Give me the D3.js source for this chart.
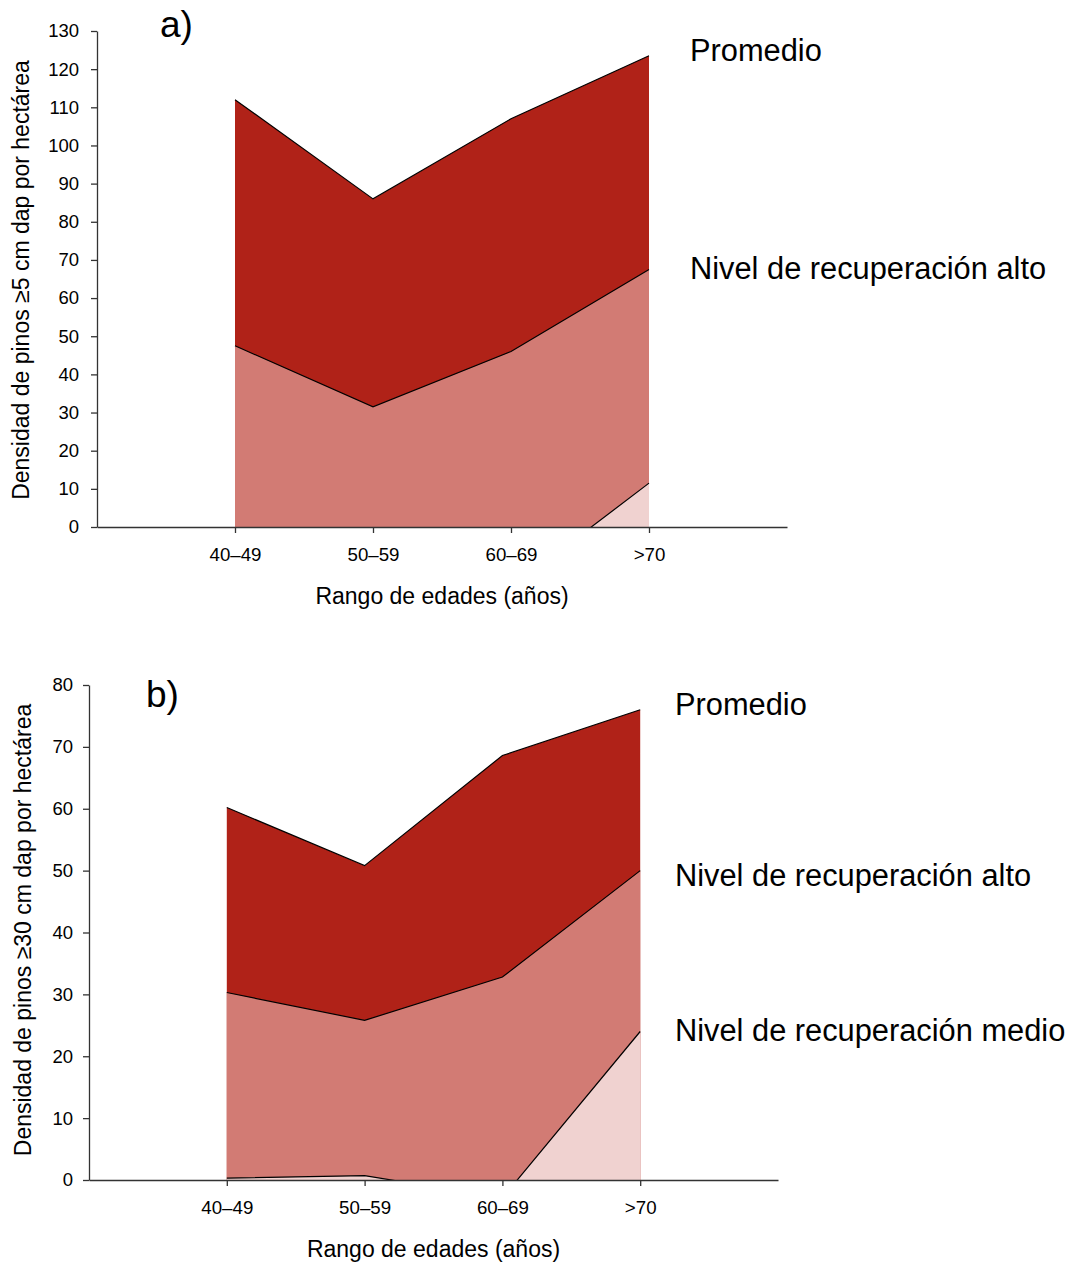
<!DOCTYPE html>
<html>
<head>
<meta charset="utf-8">
<script src="https://cdn.jsdelivr.net/npm/d3@7"></script>
<style>
  body { margin: 0; background: #fff; }
  svg text { font-family: "Liberation Sans", Arial, sans-serif; fill: #000; }
  .axis path, .axis line { stroke: #333; stroke-width: 1.3; }
  .axis text { font-family: "Liberation Sans", Arial, sans-serif; fill: #000; }
</style>
</head>
<body>
<svg id="chart" width="1072" height="1265"></svg>
<script>
// categories (age ranges)
const categories = ["40–49", "50–59", "60–69", ">70"];

// panel a) pines >=5 cm dbh per hectare
const aPromedio = [112, 86, 107, 123.5];
const aAlto = [47.5, 31.5, 46, 67.5];
const aMedio = [-30, -25, -16, 11.5];
const aTicks = d3.range(0, 131, 10);

// panel b) pines >=30 cm dbh per hectare
const bPromedio = [60.2, 50.8, 68.6, 76];
const bAlto = [30.3, 25.8, 32.8, 50];
const bMedio = [0.3, 0.7, -2.9, 24];
const bTicks = d3.range(0, 81, 10);

const colors = { promedio: "#b02218", alto: "#d27b74", medio: "#f0d2d0" };

const svg = d3.select("#chart");

function panel(opts) {
  const x = d3.scaleLinear().domain([0, categories.length + 1]).range([opts.x0, opts.x1]);
  const y = d3.scaleLinear().domain([0, opts.ymax]).range([opts.y0, opts.y1]);
  const g = svg.append("g");

  const clipId = "clip-" + opts.name;
  g.append("clipPath").attr("id", clipId)
    .append("rect")
    .attr("x", opts.x0).attr("y", opts.y1 - 5)
    .attr("width", opts.x1 - opts.x0).attr("height", opts.y0 - opts.y1 + 5);

  const plot = g.append("g").attr("clip-path", `url(#${clipId})`);

  const area = d3.area()
    .x((d, i) => x(i + 1))
    .y0(y(0))
    .y1(d => y(d));
  const line = d3.line()
    .x((d, i) => x(i + 1))
    .y(d => y(d));

  opts.series.forEach(s => {
    plot.append("path")
      .attr("d", area(s.values))
      .attr("fill", s.color);
    plot.append("path")
      .attr("d", line(s.values))
      .attr("fill", "none")
      .attr("stroke", "#000")
      .attr("stroke-width", 1.2);
  });

  // y axis
  g.append("g")
    .attr("class", "axis")
    .attr("transform", `translate(${opts.x0},0)`)
    .call(d3.axisLeft(y).tickValues(opts.ticks).tickSize(6).tickPadding(opts.yPad).tickSizeOuter(0))
    .call(a => a.selectAll("text").style("font-size", "18.5px"));

  // x axis
  const xa = g.append("g")
    .attr("class", "axis")
    .attr("transform", `translate(0,${opts.y0})`)
    .call(d3.axisBottom(x)
      .tickValues(d3.range(1, categories.length + 1))
      .tickFormat(i => categories[i - 1])
      .tickSize(6).tickPadding(15).tickSizeOuter(0));
  xa.selectAll("text").style("font-size", "18.7px");

  // panel letter
  g.append("text")
    .attr("x", opts.letterX).attr("y", opts.letterY)
    .style("font-size", "37px")
    .text(opts.letter);

  // series labels on the right
  opts.labels.forEach(l => {
    g.append("text")
      .attr("x", opts.labelX).attr("y", l.y)
      .style("font-size", "30.8px")
      .text(l.text);
  });

  // axis titles
  g.append("text")
    .attr("x", (opts.x0 + opts.x1) / 2)
    .attr("y", opts.y0 + 77)
    .attr("text-anchor", "middle")
    .style("font-size", "23px")
    .text("Rango de edades (años)");

  g.append("text")
    .attr("transform", `translate(${opts.titleX},${opts.titleY}) rotate(-90)`)
    .attr("text-anchor", "middle")
    .style("font-size", "23px")
    .text(opts.yTitle);
}

panel({
  name: "a", x0: 97, x1: 787, y0: 527, y1: 31, ymax: 130, ticks: aTicks, yPad: 12,
  series: [
    { values: aPromedio, color: colors.promedio },
    { values: aAlto, color: colors.alto },
    { values: aMedio, color: colors.medio }
  ],
  letter: "a)", letterX: 160, letterY: 37,
  labelX: 690,
  labels: [
    { text: "Promedio", y: 61 },
    { text: "Nivel de recuperación alto", y: 279 }
  ],
  yTitle: "Densidad de pinos ≥5 cm dap por hectárea", titleX: 29, titleY: 280
});

panel({
  name: "b", x0: 89, x1: 778, y0: 1180, y1: 685, ymax: 80, ticks: bTicks, yPad: 10,
  series: [
    { values: bPromedio, color: colors.promedio },
    { values: bAlto, color: colors.alto },
    { values: bMedio, color: colors.medio }
  ],
  letter: "b)", letterX: 146, letterY: 707,
  labelX: 675,
  labels: [
    { text: "Promedio", y: 715 },
    { text: "Nivel de recuperación alto", y: 886 },
    { text: "Nivel de recuperación medio", y: 1041 }
  ],
  yTitle: "Densidad de pinos ≥30 cm dap por hectárea", titleX: 31, titleY: 930
});
</script>
</body>
</html>
